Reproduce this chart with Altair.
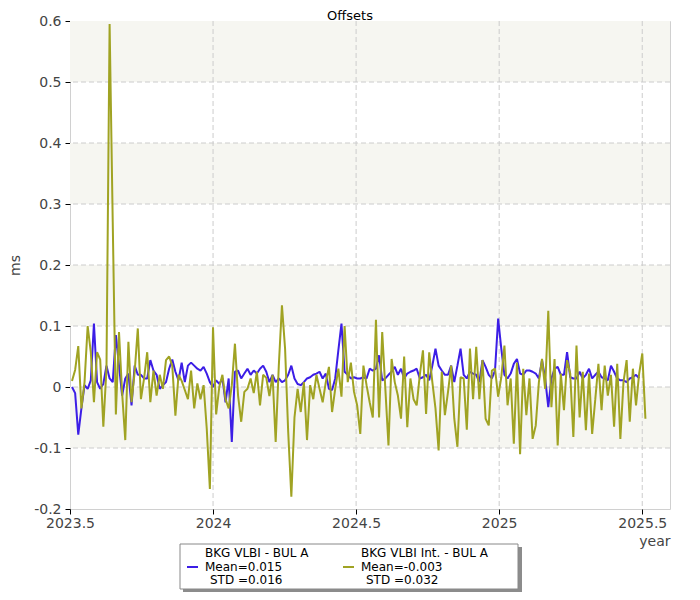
import altair as alt
import pandas as pd

# ---------------- data ----------------
START_YEAR = 2023.507      # first epoch (decimal year)
STEP_DAYS = 4              # sampling interval of the series

blue_vals = [
    0.0, -0.01, -0.078, -0.035, 0.003, -0.003, 0.011, 0.104, 0.008, -0.003,
    0.005, 0.035, 0.014, 0.008, 0.085, 0.035, -0.014, 0.014, 0.022, -0.03,
    0.035, 0.02, 0.02, 0.014, 0.014, 0.044, 0.027, 0.02, -0.003, 0.003,
    0.008,
    0.03, 0.045, 0.025, 0.011, 0.04, 0.008, 0.035, 0.04, 0.035, 0.03,
    0.027, 0.033, 0.022, 0.008, 0.0, 0.011, 0.005, 0.014, -0.025, 0.014,
    -0.09, 0.025, 0.027, 0.014, 0.022, 0.03, 0.02, 0.027, 0.022, 0.03,
    0.035,
    0.025, 0.008, 0.02, 0.008, 0.014, 0.008, 0.011, 0.02, 0.035,
    0.014, 0.005, 0.003, 0.008, 0.014, 0.016, 0.02, 0.022, 0.025, 0.014,
    0.022, -0.003, -0.005, 0.014, 0.06, 0.104, 0.025, 0.02, 0.014, 0.016,
    0.014,
    0.014, 0.016, 0.014, 0.03, 0.027, 0.03, 0.052, 0.011, 0.014,
    0.02, 0.025, 0.033, 0.02, 0.03, 0.014, 0.022, 0.025, 0.027, 0.03,
    0.014, 0.016, 0.02, 0.011, 0.035, 0.063, 0.035, 0.027, 0.02, 0.02,
    0.035, 0.008,
    0.035, 0.063, 0.02, 0.014, 0.025, 0.022, 0.02, 0.008,
    0.044, 0.033, 0.02, 0.014, 0.027, 0.112, 0.063, 0.02, 0.014, 0.022,
    0.038, 0.046, 0.022, 0.02, 0.027, 0.027, 0.025, 0.022, 0.014, 0.044,
    0.014, -0.033,
    0.014, 0.03, 0.033, 0.02, 0.02, 0.057, 0.016, 0.014,
    0.014, 0.025, 0.014, 0.02, 0.03, 0.014, 0.02, 0.025, 0.016, 0.014,
    0.011, 0.035, 0.025, 0.014, 0.011, 0.011, 0.008, 0.014, 0.016, 0.02,
    0.014,
]

olive_vals = [
    0.01, 0.028, 0.067, -0.035, 0.008, 0.10, 0.057, -0.025, 0.057, 0.045,
    -0.065, 0.03, 0.595, 0.27, -0.045, 0.09, -0.01, -0.087, 0.074, -0.025,
    0.025, 0.096, -0.02, 0.014, 0.057, -0.025, 0.027, -0.014, 0.02, -0.003,
    0.044, 0.05, 0.035, -0.047, 0.02, 0.01, -0.005, -0.02, 0.027, -0.035,
    0.006, -0.02, 0.003, -0.068, -0.167, 0.098, -0.045, 0.0, 0.02, -0.02,
    -0.035, 0.003, 0.071, -0.014, -0.057, -0.008, -0.003, 0.014, -0.01, 0.025,
    -0.03, 0.02, 0.015, -0.015, 0.02, -0.09, 0.035, 0.134, 0.063, -0.074,
    -0.18, -0.05, -0.003, -0.041, 0.008, -0.087, 0.003, -0.02, 0.02, -0.003,
    -0.025, 0.008, 0.033, -0.041, -0.003, 0.03, -0.016, 0.1, 0.008, 0.04,
    -0.008, -0.03, -0.077, 0.035, 0.003, -0.025, -0.05, 0.11, -0.05, 0.09,
    -0.003, -0.096, 0.046, 0.008, -0.014, -0.052, 0.05, -0.066, 0.014, -0.02,
    -0.03, 0.02, 0.06, -0.044, 0.057, 0.008, -0.035, -0.104, 0.025, -0.046,
    -0.008, 0.035, -0.052, -0.098, 0.016, 0.014, -0.07, 0.063, -0.02, 0.066,
    -0.02, 0.044, -0.052, -0.063, 0.027, 0.03, -0.016, 0.016, 0.068, -0.03,
    0.014, -0.093, 0.04, -0.11, 0.03, -0.046, 0.014, -0.085, -0.063, 0.008,
    0.046, -0.003, 0.125, -0.033, 0.046, -0.096, 0.022, -0.038, 0.044, 0.022,
    -0.082, 0.068, -0.05, 0.025, -0.071, 0.022, -0.077, -0.02, 0.038, -0.038,
    0.035, -0.014, 0.02, -0.065, 0.038, -0.085, 0.008, 0.044, -0.057, 0.03,
    -0.03, 0.022, 0.055, -0.052,
]

SERIES_NAMES = ["BKG VLBI - BUL A", "BKG VLBI Int. - BUL A"]
SERIES_MEAN = ["0.015", "-0.003"]
SERIES_STD = ["0.016", "0.032"]
COLORS = ["#3c1ee6", "#a0a323"]

x_ticks = [2023.5, 2024, 2024.5, 2025, 2025.5]
y_ticks = [-0.2, -0.1, 0, 0.1, 0.2, 0.3, 0.4, 0.5, 0.6]
x_grid = [2024, 2024.5, 2025, 2025.5]
y_grid = [-0.1, 0, 0.1, 0.2, 0.3, 0.4, 0.5]
band_lo = [-0.1, 0.1, 0.3, 0.5]
band_hi = [0.0, 0.2, 0.4, 0.6]

X_DOMAIN = [2023.5, 2025.597]
Y_DOMAIN = [-0.2, 0.6]

# ---------------- tables ----------------
rows = []
for name, vals in zip(SERIES_NAMES, [blue_vals, olive_vals]):
    for i, v in enumerate(vals):
        rows.append({"year": START_YEAR + i * STEP_DAYS / 365.25, "ms": v, "series": name})
df = pd.DataFrame(rows)
bands_df = pd.DataFrame({"lo": band_lo, "hi": band_hi})
ygrid_df = pd.DataFrame({"v": y_grid})
xgrid_df = pd.DataFrame({"v": x_grid})

FONT = "DejaVu Sans"
xs = alt.Scale(domain=X_DOMAIN, nice=False, zero=False)
ys = alt.Scale(domain=Y_DOMAIN, nice=False, zero=False)

X_AXIS = alt.Axis(
    values=x_ticks, labelExpr="toString(datum.value)", labelFlush=False,
    domain=False, grid=False, tickColor="black", tickSize=5,
    labelFont=FONT, labelFontSize=14, labelColor="#444444", labelPadding=2,
    title="year", titleFont=FONT, titleFontSize=14, titleFontWeight="normal",
    titleColor="#444444", titleX=600, titleY=32, titleAlign="right",
    titleBaseline="middle",
)
Y_AXIS = alt.Axis(
    values=y_ticks, labelExpr="toString(datum.value)",
    domain=False, grid=False, tickColor="black", tickSize=5,
    labelFont=FONT, labelFontSize=14, labelColor="#444444", labelPadding=4,
    title="ms", titleFont=FONT, titleFontSize=14, titleFontWeight="normal",
    titleColor="#444444", titleX=-55, titleY=244, titleAngle=270,
    titleAlign="center", titleBaseline="middle",
)

bands = alt.Chart(bands_df).mark_rect(color="#f6f6f1").encode(
    y=alt.Y("lo:Q", scale=ys, axis=Y_AXIS), y2="hi:Q"
)
hgrid = alt.Chart(ygrid_df).mark_rule(color="#cccccc", strokeDash=[5, 3], strokeWidth=1).encode(
    y=alt.Y("v:Q", scale=ys, axis=Y_AXIS)
)
vgrid = alt.Chart(xgrid_df).mark_rule(color="#cccccc", strokeDash=[5, 3], strokeWidth=1).encode(
    x=alt.X("v:Q", scale=xs, axis=X_AXIS)
)

lines = alt.Chart(df).mark_line(strokeWidth=2, strokeJoin="bevel").encode(
    x=alt.X("year:Q", scale=xs, axis=X_AXIS),
    y=alt.Y("ms:Q", scale=ys, axis=Y_AXIS),
    color=alt.Color("series:N", scale=alt.Scale(domain=SERIES_NAMES, range=COLORS), legend=None),
)

# ---- legend box drawn below the plot ----
one = pd.DataFrame({"k": [0]})
legend_layers = [
    alt.Chart(one).mark_rect(color="#8c8c8c").encode(
        x=alt.value(113), x2=alt.value(452), y=alt.value(526), y2=alt.value(571)
    ),
    alt.Chart(one).mark_rect(fill="white", stroke="#888888", strokeWidth=1).encode(
        x=alt.value(110), x2=alt.value(448), y=alt.value(523), y2=alt.value(568)
    ),
]
for c, (n, m, s) in enumerate(zip(SERIES_NAMES, SERIES_MEAN, SERIES_STD)):
    x0 = 117 + 156 * c
    legend_layers.append(
        alt.Chart(one).mark_rule(color=COLORS[c], strokeWidth=2).encode(
            x=alt.value(x0), x2=alt.value(x0 + 11), y=alt.value(546)
        )
    )
    for r, (t, ind) in enumerate([(n, 0), ("Mean=" + m, 0), ("STD =" + s, 5)]):
        legend_layers.append(
            alt.Chart(one).mark_text(
                align="left", baseline="middle", font=FONT, fontSize=12, color="black"
            ).encode(
                x=alt.value(x0 + 18 + ind), y=alt.value(532 + 13.5 * r), text=alt.value(t)
            )
        )

chart = alt.layer(bands, hgrid, vgrid, lines, *legend_layers).properties(
    width=600,
    height=488,
    title=alt.TitleParams(
        "Offsets", font=FONT, fontSize=13, fontWeight="normal", color="black",
        anchor="middle", dx=-20, dy=9, offset=0,
    ),
    padding={"left": 62, "top": 13, "right": 14, "bottom": 83},
    autosize=alt.AutoSizeParams(type="none"),
).configure_view(stroke="#d0d0d0", strokeWidth=1)

chart.save("out.html", embed_options={"renderer": "svg", "actions": False})
